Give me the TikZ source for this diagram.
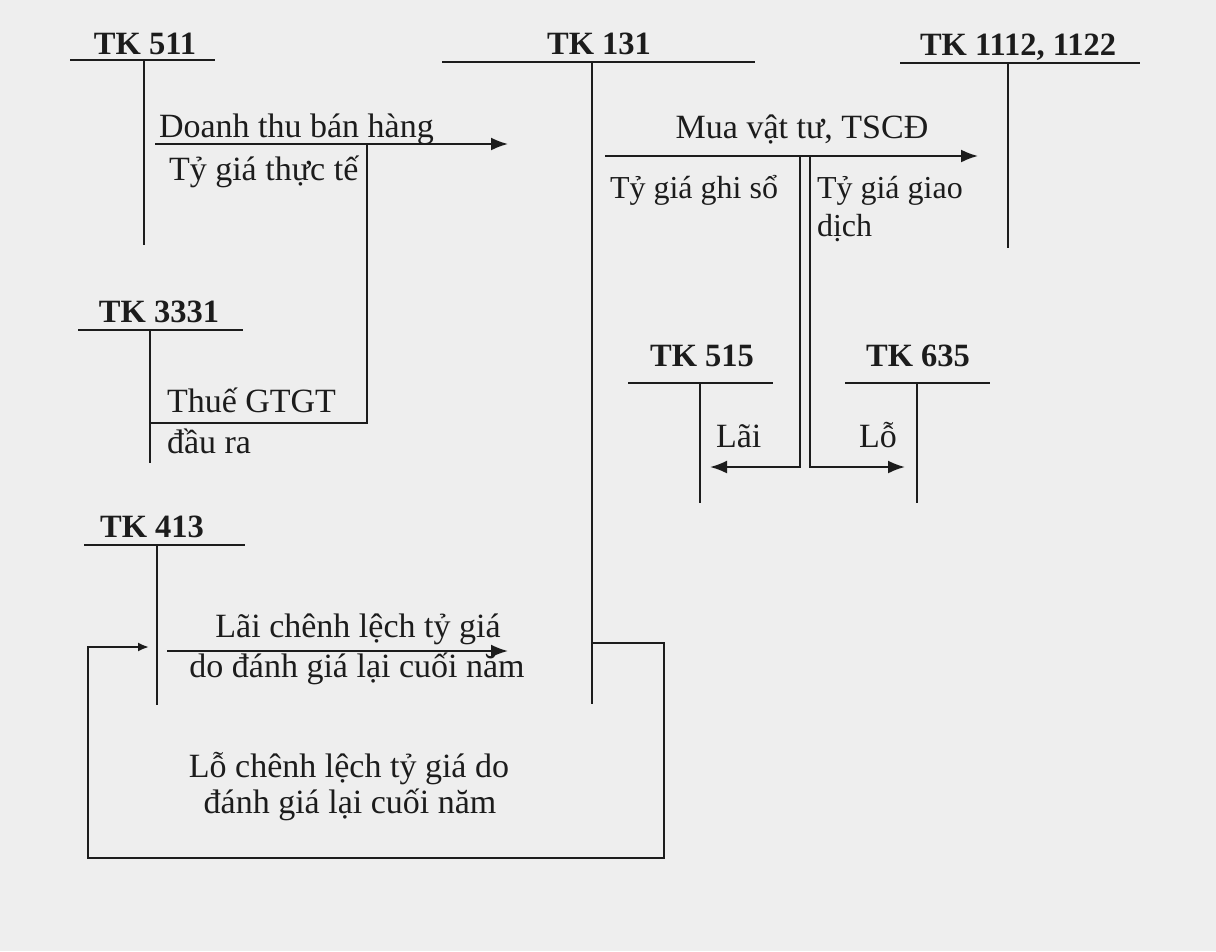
\documentclass[tikz,border=0pt]{standalone}
\usepackage{fontspec}
\setmainfont{Liberation Serif}
\usetikzlibrary{arrows.meta}
\definecolor{paper}{RGB}{238,238,238}
\definecolor{ink}{RGB}{28,28,28}
\begin{document}
\begin{tikzpicture}[x=1pt,y=-1pt, line width=2pt, draw=ink, text=ink,
  tk/.style={font=\fontsize{32.5}{36}\selectfont\bfseries, inner sep=0pt, anchor=base},
  lbl/.style={font=\fontsize{34}{38}\selectfont, inner sep=0pt, anchor=base west},
  clbl/.style={font=\fontsize{34}{38}\selectfont, inner sep=0pt, anchor=base},
  tline/.style={line width=1.6pt},
  arr/.style={-{Latex[length=17pt,width=13pt]}},
  sarr/.style={-{Latex[length=11pt,width=9pt]}}]
\fill[paper] (0,0) rectangle (1216,951);
\useasboundingbox (0,0) rectangle (1216,951);

% ---- T accounts ----
% TK 511
\node[tk] (n511) at (145,54) {TK 511};
\coordinate (a511L) at (70,60); \coordinate (a511R) at (215,60);
\coordinate (a511T) at (144,60); \coordinate (a511B) at (144,245);
\draw[tline] (a511L) -- (a511R); \draw (a511T) -- (a511B);
% TK 131
\node[tk] (n131) at (599,54) {TK 131};
\coordinate (a131L) at (442,62); \coordinate (a131R) at (755,62);
\coordinate (a131T) at (592,62); \coordinate (a131B) at (592,704);
\draw[tline] (a131L) -- (a131R); \draw (a131T) -- (a131B);
% TK 1112, 1122
\node[tk] (n111) at (1018,55) {TK 1112, 1122};
\coordinate (a111L) at (900,63); \coordinate (a111R) at (1140,63);
\coordinate (a111T) at (1008,63); \coordinate (a111B) at (1008,248);
\draw[tline] (a111L) -- (a111R); \draw (a111T) -- (a111B);
% TK 3331
\node[tk] (n3331) at (159,322) {TK 3331};
\coordinate (a333L) at (78,330); \coordinate (a333R) at (243,330);
\coordinate (a333T) at (150,330); \coordinate (a333B) at (150,463);
\draw[tline] (a333L) -- (a333R); \draw (a333T) -- (a333B);
% TK 515
\node[tk] (n515) at (702,366) {TK 515};
\coordinate (a515L) at (628,383); \coordinate (a515R) at (773,383);
\coordinate (a515T) at (700,383); \coordinate (a515B) at (700,503);
\draw[tline] (a515L) -- (a515R); \draw (a515T) -- (a515B);
% TK 635
\node[tk] (n635) at (918,366) {TK 635};
\coordinate (a635L) at (845,383); \coordinate (a635R) at (990,383);
\coordinate (a635T) at (917,383); \coordinate (a635B) at (917,503);
\draw[tline] (a635L) -- (a635R); \draw (a635T) -- (a635B);
% TK 413
\node[tk] (n413) at (152,537) {TK 413};
\coordinate (a413L) at (84,545); \coordinate (a413R) at (245,545);
\coordinate (a413T) at (157,545); \coordinate (a413B) at (157,705);
\draw[tline] (a413L) -- (a413R); \draw (a413T) -- (a413B);

% ---- Doanh thu ----
\coordinate (dtS) at (155,144); \coordinate (dtE) at (508,144);
\draw[arr] (dtS) -- (dtE);
\node[lbl] (dt1) at (158,137) {Doanh thu bán hàng};
\node[lbl] (dt2) at (168,180) {Tỷ giá thực tế};
\coordinate (vtS) at (367,144); \coordinate (vtC) at (367,423); \coordinate (vtE) at (150,423);
\draw (vtS) -- (vtC) -- (vtE);
\node[lbl] (gt1) at (166,412) {Thuế GTGT};
\node[lbl] (gt2) at (166,453) {đầu ra};

% ---- Mua vat tu ----
\coordinate (mS) at (605,156); \coordinate (mE) at (978,156);
\draw[arr] (mS) -- (mE);
\node[clbl] (m1) at (802,138) {Mua vật tư, TSCĐ};
\node[lbl, font=\fontsize{32}{36}\selectfont] (m2) at (609,198) {Tỷ giá ghi sổ};
\node[lbl, font=\fontsize{32}{36}\selectfont] (m3) at (816,198) {Tỷ giá giao};
\node[lbl, font=\fontsize{32}{36}\selectfont] (m4) at (816,236) {dịch};
\coordinate (dlT) at (800,156); \coordinate (dlB) at (800,467); \coordinate (dlE) at (710,467);
\coordinate (drT) at (810,156); \coordinate (drB) at (810,467); \coordinate (drE) at (905,467);
\draw[arr] (dlT) -- (dlB) -- (dlE);
\draw[arr] (drT) -- (drB) -- (drE);
\node[lbl] (lai) at (715,447) {Lãi};
\node[lbl] (lo) at (858,447) {Lỗ};

% ---- TK 413 ----
\coordinate (lS) at (167,651); \coordinate (lE) at (508,651);
\draw[arr] (lS) -- (lE);
\node[clbl] (l1) at (358,637) {Lãi chênh lệch tỷ giá};
\node[clbl] (l2) at (357,677) {do đánh giá lại cuối năm};
\coordinate (p1) at (592,643); \coordinate (p2) at (664,643);
\coordinate (p3) at (664,858); \coordinate (p4) at (88,858);
\coordinate (p5) at (88,647); \coordinate (p6) at (149,647);
\draw[sarr] (p1) -- (p2) -- (p3) -- (p4) -- (p5) -- (p6);
\node[clbl] (lo1) at (349,777) {Lỗ chênh lệch tỷ giá do};
\node[clbl] (lo2) at (350,813) {đánh giá lại cuối năm};
\end{tikzpicture}
\end{document}
